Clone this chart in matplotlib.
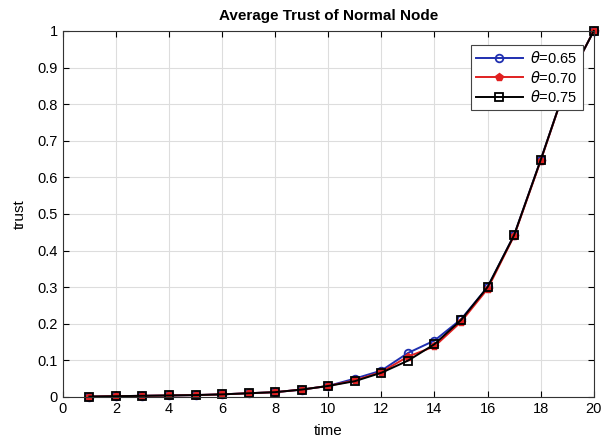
import numpy as np
import matplotlib
matplotlib.use("Agg")
import matplotlib.pyplot as plt

plt.rcParams['font.family'] = ['Liberation Sans', 'DejaVu Sans']

# time steps
t = np.arange(1, 21)

# average trust for each threshold
trust_065 = [0.001, 0.002, 0.003, 0.004, 0.005, 0.007, 0.010, 0.013, 0.020, 0.030,
             0.050, 0.072, 0.120, 0.154, 0.212, 0.300, 0.442, 0.647, 0.860, 1.000]
trust_070 = [0.001, 0.002, 0.003, 0.004, 0.005, 0.007, 0.010, 0.013, 0.020, 0.030,
             0.045, 0.068, 0.110, 0.138, 0.205, 0.295, 0.440, 0.645, 0.860, 1.000]
trust_075 = [0.001, 0.002, 0.003, 0.004, 0.005, 0.007, 0.010, 0.013, 0.020, 0.030,
             0.043, 0.066, 0.099, 0.144, 0.210, 0.300, 0.442, 0.647, 0.860, 1.000]

labels = [r'$\theta$=0.65', r'$\theta$=0.70', r'$\theta$=0.75']

fig = plt.figure(figsize=(6.04, 4.42), dpi=100)
ax = fig.add_axes([0.104, 0.102, 0.879, 0.828])

ax.plot(t, trust_065, color='#1f2fb0', lw=1.4, marker='o', ms=5.5, mfc='none', mew=1.3,
        label=labels[0], clip_on=False)
ax.plot(t, trust_070, color='#e02020', lw=1.4, marker='p', ms=5.5, mfc='#e02020', mec='#e02020',
        label=labels[1], clip_on=False)
ax.plot(t, trust_075, color='black', lw=1.4, marker='s', ms=5.5, mfc='none', mew=1.3,
        label=labels[2], clip_on=False)

ax.set_xlim(0, 20)
ax.set_ylim(0, 1)
ax.set_xticks(np.arange(0, 21, 2))
ax.set_yticks(np.arange(0, 1.01, 0.1))
ax.set_yticklabels(['0', '0.1', '0.2', '0.3', '0.4', '0.5', '0.6', '0.7', '0.8', '0.9', '1'])
ax.grid(True, color='#dddddd', lw=0.8)
ax.tick_params(direction='in', top=True, right=True, labelsize=10.5, length=4)
for s in ax.spines.values():
    s.set_color('#333333')

ax.set_title('Average Trust of Normal Node', fontsize=11, fontweight='bold', pad=8)
ax.set_xlabel('time', fontsize=11, labelpad=6)
ax.set_ylabel('trust', fontsize=11, labelpad=8)

leg = ax.legend(loc='upper right', bbox_to_anchor=(0.979, 0.962), borderaxespad=0, fontsize=10.5,
                fancybox=False, framealpha=1, edgecolor='#444444', handlelength=3.2, borderpad=0.35,
                labelspacing=0.25, handletextpad=0.5)
leg.get_frame().set_linewidth(0.8)

fig.savefig('out.png', dpi=100)
